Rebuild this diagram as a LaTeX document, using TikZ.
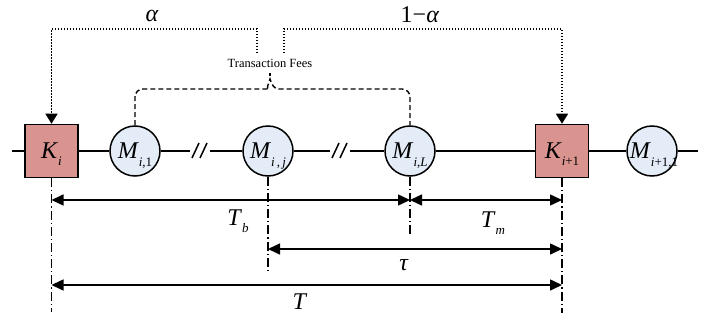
\documentclass[tikz,border=0pt]{standalone}
\usepackage{fontspec}
\setmainfont{Liberation Serif}
\usetikzlibrary{arrows.meta}
\definecolor{kpink}{RGB}{217,148,144}
\definecolor{mblue}{RGB}{228,236,247}
\newcommand\mysub[3][7pt]{\textit{#2}\smash{\raisebox{-#1}{\fontsize{13}{13}\selectfont #3}}}
\begin{document}
\begin{tikzpicture}[x=1pt,y=-1pt,
  big/.style={font=\fontsize{24}{24}\selectfont, inner sep=0pt},
  kbox/.style={draw=black, line width=1.5pt, fill=kpink, minimum size=53pt, inner sep=0pt, font=\fontsize{24}{24}\selectfont},
  mcirc/.style={draw=black, line width=1.5pt, circle, fill=mblue, minimum size=50pt, inner sep=0pt},
  wire/.style={line width=1.5pt},
  dotline/.style={line width=1.5pt, dash pattern=on 1.4pt off 1.6pt},
  dotarrow/.style={dotline, -{Triangle[length=10pt,width=12pt]}},
  brace/.style={line width=1.4pt, dash pattern=on 5pt off 3pt},
  dashdot/.style={line width=1.1pt, dash pattern=on 9pt off 3pt on 1.2pt off 3pt},
  dim/.style={line width=1.5pt, {Triangle[length=12pt,width=11pt]}-{Triangle[length=12pt,width=11pt]}},
  smallt/.style={font=\fontsize{12.5}{12.5}\selectfont, inner sep=0pt}
]
\useasboundingbox (0,0) rectangle (715,323);

% main line nodes
\node[kbox] (Ki) at (51.5,151) {\mysub{K}{\textit{i}}};
\node[mcirc] (M1) at (135,151) {};
\node[mcirc] (Mj) at (268,151) {};
\node[mcirc] (ML) at (410,151) {};
\node[kbox] (K2) at (562,151) {\mysub{K}{\textit{i}+1}};
\node[mcirc] (M21) at (652,151) {};

\node[big] (lM1) at (M1) {\mysub[8pt]{M}{\textit{i},1}};
\node[big] (lMj) at (Mj) {\mysub[8pt]{M}{\textit{i}\,,\,\textit{j}}};
\node[big] (lML) at (ML) {\mysub[8pt]{M}{\textit{i},\textit{L}}};
\node[big] (lM21) at ([xshift=2pt]M21) {\mysub[8pt]{M}{\textit{i}+1,1}};

% wire coordinates
\coordinate (w0) at (12,151);
\coordinate (w9) at (698,151);
\coordinate (b1a) at (190,151);
\coordinate (b1b) at (210,151);
\coordinate (b2a) at (330,151);
\coordinate (b2b) at (350,151);

\draw[wire] (w0) -- (Ki.west);
\draw[wire] (Ki.east) -- (M1.west);
\draw[wire] (M1.east) -- (b1a);
\draw[wire] (b1b) -- (Mj.west);
\draw[wire] (Mj.east) -- (b2a);
\draw[wire] (b2b) -- (ML.west);
\draw[wire] (ML.east) -- (K2.west);
\draw[wire] (K2.east) -- (M21.west);
\draw[wire] (M21.east) -- (w9);

% break marks
\draw[wire] (192,158) -- (199,143);
\draw[wire] (200,158) -- (207,143);
\draw[wire] (332,158) -- (339,143);
\draw[wire] (340,158) -- (347,143);

% top dotted distribution
\node[smallt] (fees) at (270,63) {Transaction Fees};
\coordinate (tl) at (257,53);
\coordinate (tr) at (284,53);
\draw[dotarrow] (tl) -- (257,29) -| (Ki.north);
\draw[dotarrow] (tr) -- (284,29) -| (K2.north);
\node[big] (alpha) at (152,16) {\textit{α}};
\node[big] (oma) at (420,15) {1−\textit{α}};

% dashed brace
\draw[brace] (M1.north) [rounded corners=8pt] -- (135,89) -- (261,89) [sharp corners]
  .. controls (266,89) and (268,85) .. (270,79)
  .. controls (272,85) and (274,89) .. (279,89) [rounded corners=8pt]
  -- (410,89) -- (ML.north);
\draw[brace] (270,76) -- (270,73);

% dash-dot verticals
\coordinate (vK) at (51.5,312);
\coordinate (vMj) at (268,273);
\coordinate (vML) at (410,237);
\coordinate (vK2) at (562,313);
\draw[dashdot] (Ki.south) -- (vK);
\draw[dashdot] (Mj.south) -- (vMj);
\draw[dashdot] (ML.south) -- (vML);
\draw[dashdot] (K2.south) -- (vK2);

% dimension levels
\coordinate (y1) at (0,200);
\coordinate (y2) at (0,249);
\coordinate (y3) at (0,285);
\draw[dim] (Ki |- y1) -- (ML |- y1);
\draw[dim] (ML |- y1) -- (K2 |- y1);
\draw[dim] (Mj |- y2) -- (K2 |- y2);
\draw[dim] (Ki |- y3) -- (K2 |- y3);

\node[big] (Tb) at (238,218) {\mysub{T}{\textit{b}}};
\node[big] (Tm) at (493,220) {\mysub{T}{\textit{m}}};
\node[big] (tau) at (404,265) {\textit{τ}};
\node[big] (T) at (300,302) {\textit{T}};
\end{tikzpicture}
\end{document}
